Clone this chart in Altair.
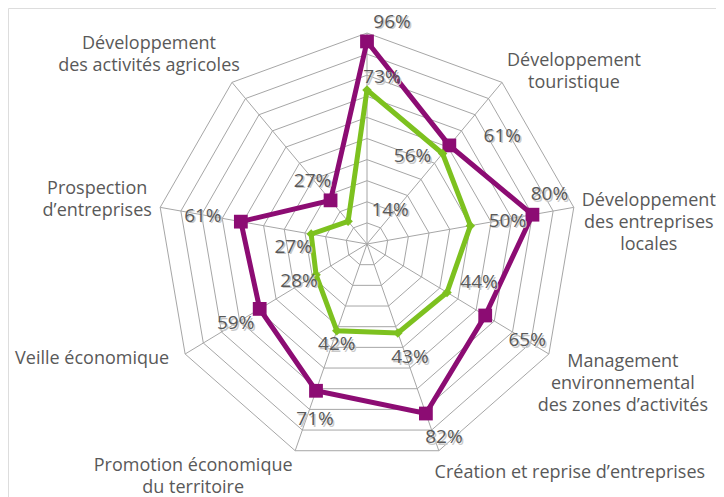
import math
import altair as alt
import pandas as pd

# ---------------- data ----------------
categories = [
    "",
    "Développement\ntouristique",
    "Développement\ndes entreprises\nlocales",
    "Management\nenvironnemental\ndes zones d’activités",
    "Création et reprise d’entreprises",
    "Promotion économique\ndu territoire",
    "Veille économique",
    "Prospection\nd’entreprises",
    "Développement\ndes activités agricoles",
]
series_purple = [96, 61, 80, 65, 82, 71, 59, 61, 27]
series_green = [73, 56, 50, 44, 43, 42, 28, 27, 14]
ring_levels = [10, 20, 30, 40, 50, 60, 70, 80, 90, 100]

# ---------------- layout (pixels, not data) ----------------
purple_label_offsets = [(25, -20), (53, -10), (17, -21), (42, 24), (18, 23),
                        (-1, 28), (-24, 14), (-38, -6), (-18, -20)]
green_label_offsets = [(15, -13), (-30, 3), (37, -5), (32, -10), (12, 24),
                       (0, 13), (-17, 6), (-18, 13), (42, -12)]
cat_label_offsets = [(0, -30), (72, -11), (75, 15), (74, 30), (131, 22),
                     (-102, 26), (-93, 5), (-63, -8), (-83, -28)]

N = len(categories)
W, H = 708, 489
RX, RY_UP, RY_DOWN = 210.0, 211.0, 220.0
CX, CY = 359.0, 236.0  # centre in plot coordinates
LH = 22

PURPLE = "#8C0C73"
GREEN = "#7DC11F"
GRID = "#A6A6A6"
TEXT = "#595959"
FONT = "Open Sans"

xscale = alt.Scale(domain=[-CX / RX, (W - CX) / RX], range=[0, W], nice=False, zero=False)
yscale = alt.Scale(domain=[-(H - CY) / RY_DOWN, 0, CY / RY_UP], range=[H, CY, 0],
                   nice=False, zero=False)

ang = "datum.i * 2 * PI / %d" % N

# ----- tables built from the lists -----
grid_rows = [{"ring": r, "i": k % N, "ord": k, "v": r} for r in ring_levels for k in range(N + 1)]
grid_df = pd.DataFrame(grid_rows)
spoke_df = pd.DataFrame({"i": list(range(N)), "v": [100] * N})

ser_rows = []
for name, vals in (("purple", series_purple), ("green", series_green)):
    for k in range(N + 1):
        ser_rows.append({"serie": name, "i": k % N, "ord": k, "v": vals[k % N]})
ser_df = pd.DataFrame(ser_rows)

pt_rows = []
for name, vals, offs in (("purple", series_purple, purple_label_offsets),
                         ("green", series_green, green_label_offsets)):
    for k in range(N):
        pt_rows.append({"serie": name, "i": k, "v": vals[k],
                        "lab": "%d%%" % vals[k], "ox": offs[k][0], "oy": offs[k][1]})
pt_df = pd.DataFrame(pt_rows)

cat_df = pd.DataFrame({
    "i": list(range(N)), "cat": categories, "v": [100] * N,
    "ox": [o[0] for o in cat_label_offsets],
    # first line position = block centre minus half the extra lines
    "oy": [o[1] - (c.count("\n")) * LH / 2 for o, c in zip(cat_label_offsets, categories)],
})


def polar(chart):
    return chart.transform_calculate(
        a=ang
    ).transform_calculate(
        px="datum.v / 100 * sin(datum.a)",
        py="datum.v / 100 * cos(datum.a)",
    )


X = alt.X("px:Q", scale=xscale, axis=None)
Y = alt.Y("py:Q", scale=yscale, axis=None)

grid = polar(alt.Chart(grid_df)).mark_line(color=GRID, strokeWidth=1).encode(
    x=X, y=Y, detail="ring:N", order="ord:Q")

spokes = polar(alt.Chart(spoke_df)).transform_calculate(z="0").mark_rule(
    color=GRID, strokeWidth=1).encode(
    x=alt.X("z:Q", scale=xscale, axis=None), y=alt.Y("z:Q", scale=yscale, axis=None),
    x2="px:Q", y2="py:Q")

line_p = polar(alt.Chart(ser_df)).transform_filter("datum.serie == 'purple'").mark_line(
    color=PURPLE, strokeWidth=5, strokeJoin="miter").encode(x=X, y=Y, order="ord:Q")
line_g = polar(alt.Chart(ser_df)).transform_filter("datum.serie == 'green'").mark_line(
    color=GREEN, strokeWidth=5, strokeJoin="miter").encode(x=X, y=Y, order="ord:Q")

pts_p = polar(alt.Chart(pt_df)).transform_filter("datum.serie == 'purple'").mark_point(
    shape="square", filled=True, color=PURPLE, size=190, opacity=1).encode(x=X, y=Y)
pts_g = polar(alt.Chart(pt_df)).transform_filter("datum.serie == 'green'").mark_point(
    shape="diamond", filled=True, color=GREEN, size=90, opacity=1).encode(x=X, y=Y)

lab = polar(alt.Chart(pt_df)).transform_calculate(
    lx="datum.px + datum.ox / %f" % RX,
    ly="datum.py - datum.oy / %f" % ((RY_UP + RY_DOWN) / 2),
)
lab_shadow = lab.mark_text(font=FONT, fontSize=19, color="#C8C8C8", dx=1.5, dy=1.5).encode(
    x=alt.X("lx:Q", scale=xscale, axis=None), y=alt.Y("ly:Q", scale=yscale, axis=None),
    text="lab:N")
lab_text = lab.mark_text(font=FONT, fontSize=19, color=TEXT).encode(
    x=alt.X("lx:Q", scale=xscale, axis=None), y=alt.Y("ly:Q", scale=yscale, axis=None),
    text="lab:N")

cats = polar(alt.Chart(cat_df)).transform_calculate(
    lx="datum.px + datum.ox / %f" % RX,
    ly="datum.py - datum.oy / %f" % ((RY_UP + RY_DOWN) / 2),
).mark_text(font=FONT, fontSize=18, color=TEXT, lineBreak="\n", lineHeight=LH,
            align="center", baseline="middle").encode(
    x=alt.X("lx:Q", scale=xscale, axis=None), y=alt.Y("ly:Q", scale=yscale, axis=None),
    text="cat:N")

chart = alt.layer(grid, spokes, line_p, line_g, pts_p, pts_g, lab_shadow, lab_text, cats).properties(
    width=W, height=H, padding=0, autosize=alt.AutoSizeParams(type="none")
).configure_view(stroke=None).configure(background="white")

chart.save("out.html", embed_options={"renderer": "svg", "actions": False})
